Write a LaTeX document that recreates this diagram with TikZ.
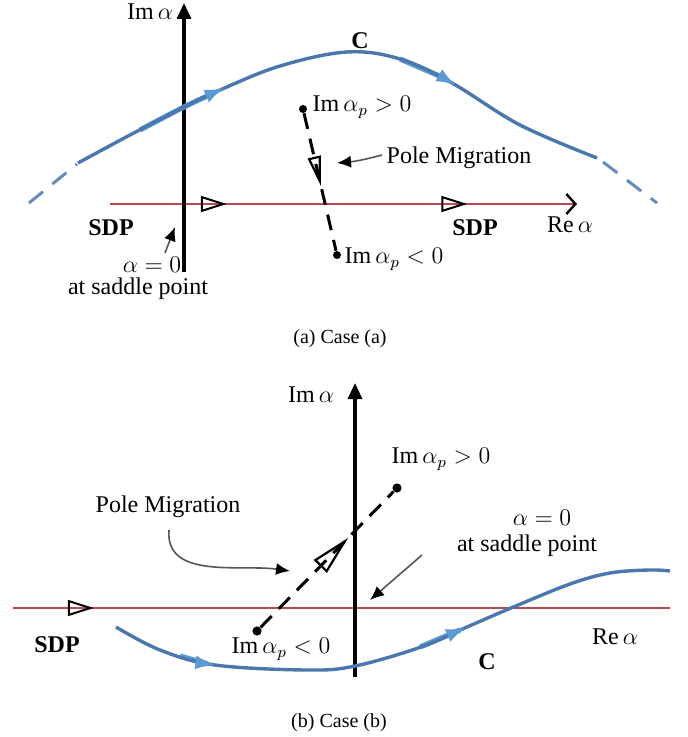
\documentclass[tikz,border=0pt]{standalone}
\usepackage{fontspec}
\setmainfont{Liberation Serif}
\usepackage{xcolor}
\definecolor{cBlue}{HTML}{4A78AE}
\definecolor{cBlueLt}{HTML}{5B9BD5}
\definecolor{cRed}{HTML}{B94A50}
\definecolor{cGray}{HTML}{555555}
\usepackage{tikz}
\usetikzlibrary{positioning,arrows.meta,calc,decorations.markings}
\newcommand{\lblfont}{\fontsize{12}{14}\selectfont}
\newcommand{\capfont}{\fontsize{10}{12}\selectfont}
\tikzset{
  lbl/.style={inner sep=0pt,font=\lblfont},
  lbl-bold/.style={inner sep=0pt,font=\lblfont\bfseries},
  lbl-cap/.style={inner sep=0pt,font=\capfont},
  axis-line/.style={line width=1.6pt,-{Triangle[length=8pt,width=7pt]}},
  path-sdp/.style={draw=cRed,line width=1.3pt},
  path-c/.style={draw=cBlue,line width=1.7pt},
  path-c-hi/.style={draw=cBlueLt,line width=2.6pt},
  path-c-tail/.style={draw=cBlue!85,line width=1.5pt,dash pattern=on 9pt off 6pt},
  pole-line/.style={draw=black,line width=1.5pt,dash pattern=on 8pt off 5pt},
  pole-dot/.style={circle,fill=black,inner sep=0pt,minimum size=#1},
  pole-dot/.default=4pt,
  note-arrow/.style={draw=cGray,line width=0.8pt,
    -{Latex[black,length=7pt,width=6pt]}},
  % 三角形标记：SDP 上为空心右向三角，C 上为浅蓝实心箭头
  sdp-tri/.style={postaction={decorate,decoration={markings,
    mark=at position #1 with
    {\arrow[black,solid,line width=1pt]{Triangle[open,length=13pt,width=8pt]}}}}},
  c-tip/.style={postaction={decorate,decoration={markings,
    mark=at position #1 with {\arrow[cBlueLt]{Latex[length=10pt,width=7pt]}}}}},
  pole-tri/.style 2 args={decoration={markings,
    mark=at position #1 with
    {\arrow[black,solid,line width=1.1pt]{Triangle[open,#2]}}},decorate},
}

\begin{document}
\begin{tikzpicture}[x=0.5pt,y=-0.5pt]
  \useasboundingbox[fill=white] (0,0) rectangle (687,737);

  % ---------- (a) Case (a) ----------
  \coordinate (aImBot) at (184,272);
  \coordinate (aImTop) at (184,3);
  \coordinate (aReL) at (110,204);
  \coordinate (aReR) at (577,204);
  \draw[path-sdp,sdp-tri=0.25,sdp-tri=0.765,
    -{Straight Barb[black,length=4.5pt,width=10pt,line width=1.2pt]}] (aReL) -- (aReR);
  \draw[axis-line] (aImBot) -- (aImTop);

  \draw[path-c-tail] (29,203) -- (77,164);
  \draw[path-c-hi] plot[smooth,tension=0.6] coordinates {(140,130) (184,107) (212,94)};
  \draw[path-c-hi] plot[smooth,tension=0.6] coordinates {(400,59) (444,78)};
  \draw[path-c,c-tip=0.29,c-tip=0.72] plot[smooth,tension=0.6] coordinates
    {(78,163) (130,135) (184,107) (220,90) (280,66) (347,52) (400,59)
     (452,83) (520,125) (597,158)};
  \draw[path-c-tail] (603,162) -- (657,203);

  \node[pole-dot] (aPoleTop) at (303,109) {};
  \node[pole-dot] (aPoleBot) at (337,255) {};
  \draw[pole-line] (aPoleTop) -- (aPoleBot);
  \path[pole-tri={0.53}{length=15pt,width=6.5pt}] (aPoleTop) -- (aPoleBot);

  \node[lbl] (aImLbl) at (150,12) {Im\,$\alpha$};
  \node[lbl-bold] (aCLbl) at (360,41) {C};
  \node[lbl] (aPoleUp) at (362,107) {Im\,$\alpha_p>0$};
  \node[lbl] (aPoleDn) at (394,259) {Im\,$\alpha_p<0$};
  \node[lbl] (aMigr) at (459,158) {Pole Migration};
  \node[lbl-bold] (aSdpL) at (111,228) {SDP};
  \node[lbl-bold] (aSdpR) at (475,228) {SDP};
  \node[lbl] (aReLbl) at (570,225) {Re\,$\alpha$};
  \node[lbl] (aZero) at (152,265) {$\alpha=0$};
  \node[lbl] (aSaddle) at (138,289) {at saddle point};
  \node[lbl-cap] (aCap) at (340,339) {(a) Case (a)};

  \coordinate (aMigrTip) at (337,163);
  \coordinate (aMigrStart) at (382,155);
  \draw[note-arrow] (aMigrStart) to[out=195,in=5] (aMigrTip);
  \coordinate (aZeroTip) at (175,227);
  \coordinate (aZeroStart) at (165,253);
  \draw[note-arrow] (aZeroStart) -- (aZeroTip);

  % ---------- (b) Case (b) ----------
  \coordinate (bImBot) at (355,677);
  \coordinate (bImTop) at (355,383);
  \coordinate (bReL) at (13,608);
  \coordinate (bReR) at (670,608);
  \draw[path-sdp,sdp-tri=0.123] (bReL) -- (bReR);
  \draw[axis-line] (bImBot) -- (bImTop);

  \draw[path-c-hi] plot[smooth,tension=0.6] coordinates {(180,656) (208,664)};
  \draw[path-c-hi] plot[smooth,tension=0.6] coordinates {(420,647) (460,630)};
  \draw[path-c,c-tip=0.185,c-tip=0.63] plot[smooth,tension=0.6] coordinates
    {(116,627) (160,650) (215,665) (307,670) (355,666) (421,647) (467,627)
     (511,608) (570,584) (610,573) (649,570) (670,571)};

  \node[pole-dot=4.6pt] (bPoleTop) at (397,488) {};
  \node[pole-dot=4.6pt] (bPoleBot) at (257,631) {};
  \draw[pole-line] (bPoleBot) -- (bPoleTop);
  \path[pole-tri={0.66}{length=20pt,width=9pt}] (bPoleBot) -- (bPoleTop);

  \node[lbl] (bImLbl) at (311,395) {Im\,$\alpha$};
  \node[lbl] (bPoleUp) at (441,459) {Im\,$\alpha_p>0$};
  \node[lbl] (bPoleDn) at (281,649) {Im\,$\alpha_p<0$};
  \node[lbl] (bMigr) at (168,507) {Pole Migration};
  \node[lbl] (bZero) at (542,518) {$\alpha=0$};
  \node[lbl] (bSaddle) at (527,546) {at saddle point};
  \node[lbl-bold] (bSdp) at (57,645) {SDP};
  \node[lbl] (bReLbl) at (615,637) {Re\,$\alpha$};
  \node[lbl-bold] (bCLbl) at (487,662) {C};
  \node[lbl-cap] (bCap) at (339,723) {(b) Case (b)};

  \coordinate (bMigrStart) at (169,530);
  \coordinate (bMigrTip) at (290,571);
  \draw[note-arrow] (bMigrStart) to[out=-95,in=172] (bMigrTip);
  \coordinate (bZeroStart) at (422,555);
  \coordinate (bZeroTip) at (370,600);
  \draw[note-arrow] (bZeroStart) -- (bZeroTip);
\end{tikzpicture}
\end{document}
